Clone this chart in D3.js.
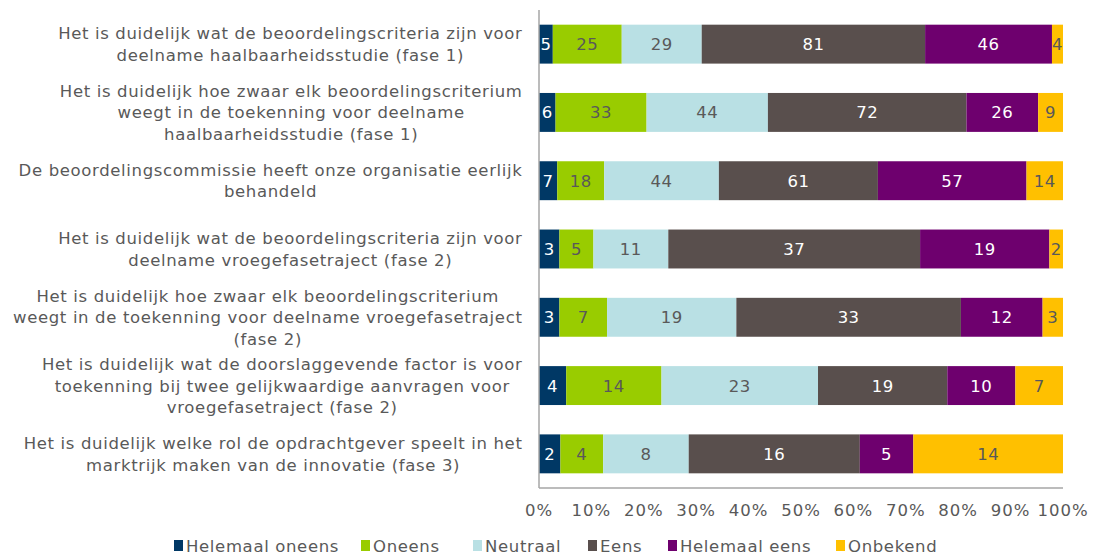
<!DOCTYPE html>
<html>
<head>
<meta charset="utf-8">
<script src="https://cdn.jsdelivr.net/npm/d3@7"></script>
<style>
  body { margin: 0; background: #fff; }
  svg text { font-family: "DejaVu Sans", Verdana, sans-serif; }
</style>
</head>
<body>
<svg id="chart" width="1093" height="555"></svg>
<script>
// ---- data ----
var categories = [
  ["Het is duidelijk wat de beoordelingscriteria zijn voor", "deelname haalbaarheidsstudie (fase 1)"],
  ["Het is duidelijk hoe zwaar elk beoordelingscriterium", "weegt in de toekenning voor deelname", "haalbaarheidsstudie (fase 1)"],
  ["De beoordelingscommissie heeft onze organisatie eerlijk", "behandeld"],
  ["Het is duidelijk wat de beoordelingscriteria zijn voor", "deelname vroegefasetraject (fase 2)"],
  ["Het is duidelijk hoe zwaar elk beoordelingscriterium", "weegt in de toekenning voor deelname vroegefasetraject", "(fase 2)"],
  ["Het is duidelijk wat de doorslaggevende factor is voor", "toekenning bij twee gelijkwaardige aanvragen voor", "vroegefasetraject (fase 2)"],
  ["Het is duidelijk welke rol de opdrachtgever speelt in het", "marktrijk maken van de innovatie (fase 3)"]
];
var seriesNames = ["Helemaal oneens", "Oneens", "Neutraal", "Eens", "Helemaal eens", "Onbekend"];
var helemaalOneens = [5, 6, 7, 3, 3, 4, 2];
var oneens         = [25, 33, 18, 5, 7, 14, 4];
var neutraal       = [29, 44, 44, 11, 19, 23, 8];
var eens           = [81, 72, 61, 37, 33, 19, 16];
var helemaalEens   = [46, 26, 57, 19, 12, 10, 5];
var onbekend       = [4, 9, 14, 2, 3, 7, 14];
var xTicks = [0, 0.1, 0.2, 0.3, 0.4, 0.5, 0.6, 0.7, 0.8, 0.9, 1];

var colors = ["#003865", "#99CC00", "#B9E0E4", "#594F4D", "#6E006E", "#FFC000"];
var labelColors = ["#ffffff", "#595959", "#595959", "#ffffff", "#ffffff", "#595959"];
var textColor = "#595959";
var fontSize = 16.5;
var spacing = 0.65; // Verdana-ish width

var seriesValues = [helemaalOneens, oneens, neutraal, eens, helemaalEens, onbekend];

// rows as objects for d3.stack
var rows = categories.map(function (c, i) {
  var r = { idx: i };
  seriesNames.forEach(function (s, j) { r[s] = seriesValues[j][i]; });
  return r;
});

var stacked = d3.stack()
  .keys(seriesNames)
  .offset(d3.stackOffsetExpand)(rows);

// ---- layout ----
var svg = d3.select('#chart');
var plotLeft = 539, plotRight = 1063, plotTop = 10, plotBottom = 488;

var x = d3.scaleLinear().domain([0, 1]).range([plotLeft, plotRight]);
var y = d3.scaleBand()
  .domain(d3.range(categories.length))
  .range([plotTop, plotBottom])
  .paddingInner(0.43)
  .paddingOuter(0.215);

// bars
var layer = svg.selectAll('.layer')
  .data(stacked)
  .enter().append('g')
  .attr('class', 'layer')
  .attr('fill', function (d, i) { return colors[i]; });

layer.selectAll('rect')
  .data(function (d) { return d; })
  .enter().append('rect')
  .attr('x', function (d) { return x(d[0]); })
  .attr('width', function (d) { return x(d[1]) - x(d[0]); })
  .attr('y', function (d) { return y(d.data.idx); })
  .attr('height', y.bandwidth());

// value labels
layer.each(function (s, i) {
  d3.select(this).selectAll('text')
    .data(s)
    .enter().append('text')
    .attr('x', function (d) { return (x(d[0]) + x(d[1])) / 2; })
    .attr('y', function (d) { return y(d.data.idx) + y.bandwidth() / 2; })
    .attr('dy', '0.36em')
    .attr('text-anchor', 'middle')
    .attr('font-size', fontSize)
    .attr('letter-spacing', 0.5)
    .attr('fill', labelColors[i])
    .text(function (d) { return d.data[s.key]; });
});

// axes lines
svg.append('line')
  .attr('x1', plotLeft).attr('x2', plotLeft)
  .attr('y1', plotTop).attr('y2', plotBottom)
  .attr('stroke', '#A6A6A6').attr('stroke-width', 1.5);
svg.append('line')
  .attr('x1', plotLeft).attr('x2', plotRight)
  .attr('y1', plotBottom).attr('y2', plotBottom)
  .attr('stroke', '#A6A6A6').attr('stroke-width', 1.5);

// x tick labels
svg.selectAll('.xtick')
  .data(xTicks)
  .enter().append('text')
  .attr('class', 'xtick')
  .attr('x', function (d) { return x(d); })
  .attr('y', 516)
  .attr('text-anchor', 'middle')
  .attr('font-size', fontSize)
  .attr('letter-spacing', 1)
  .attr('fill', textColor)
  .text(d3.format('.0%'));

// category labels: lines centered within a block right-aligned at 522
var lineH = 21.5;
categories.forEach(function (lines, i) {
  var g = svg.append('g');
  var cy = y(i) + y.bandwidth() / 2;
  var t = g.selectAll('text')
    .data(lines)
    .enter().append('text')
    .attr('font-size', fontSize)
    .attr('letter-spacing', spacing)
    .attr('fill', textColor)
    .attr('text-anchor', 'middle')
    .attr('y', function (d, k) { return cy + (k - (lines.length - 1) / 2) * lineH; })
    .attr('dy', '0.36em')
    .text(function (d) { return d; });
  var maxW = 0;
  t.each(function () { maxW = Math.max(maxW, this.getComputedTextLength()); });
  t.attr('x', 522.5 - maxW / 2);
});

// legend
var legendX = [174, 361, 473, 588, 668, 836];
var legend = svg.selectAll('.legend')
  .data(seriesNames)
  .enter().append('g')
  .attr('class', 'legend')
  .attr('transform', function (d, i) { return 'translate(' + legendX[i] + ',546)'; });
legend.append('rect')
  .attr('x', 0).attr('y', -6)
  .attr('width', 9).attr('height', 11)
  .attr('fill', function (d, i) { return colors[i]; });
legend.append('text')
  .attr('x', 12)
  .attr('dy', '0.34em')
  .attr('font-size', fontSize)
  .attr('letter-spacing', spacing)
  .attr('fill', textColor)
  .text(function (d) { return d; });
</script>
</body>
</html>
